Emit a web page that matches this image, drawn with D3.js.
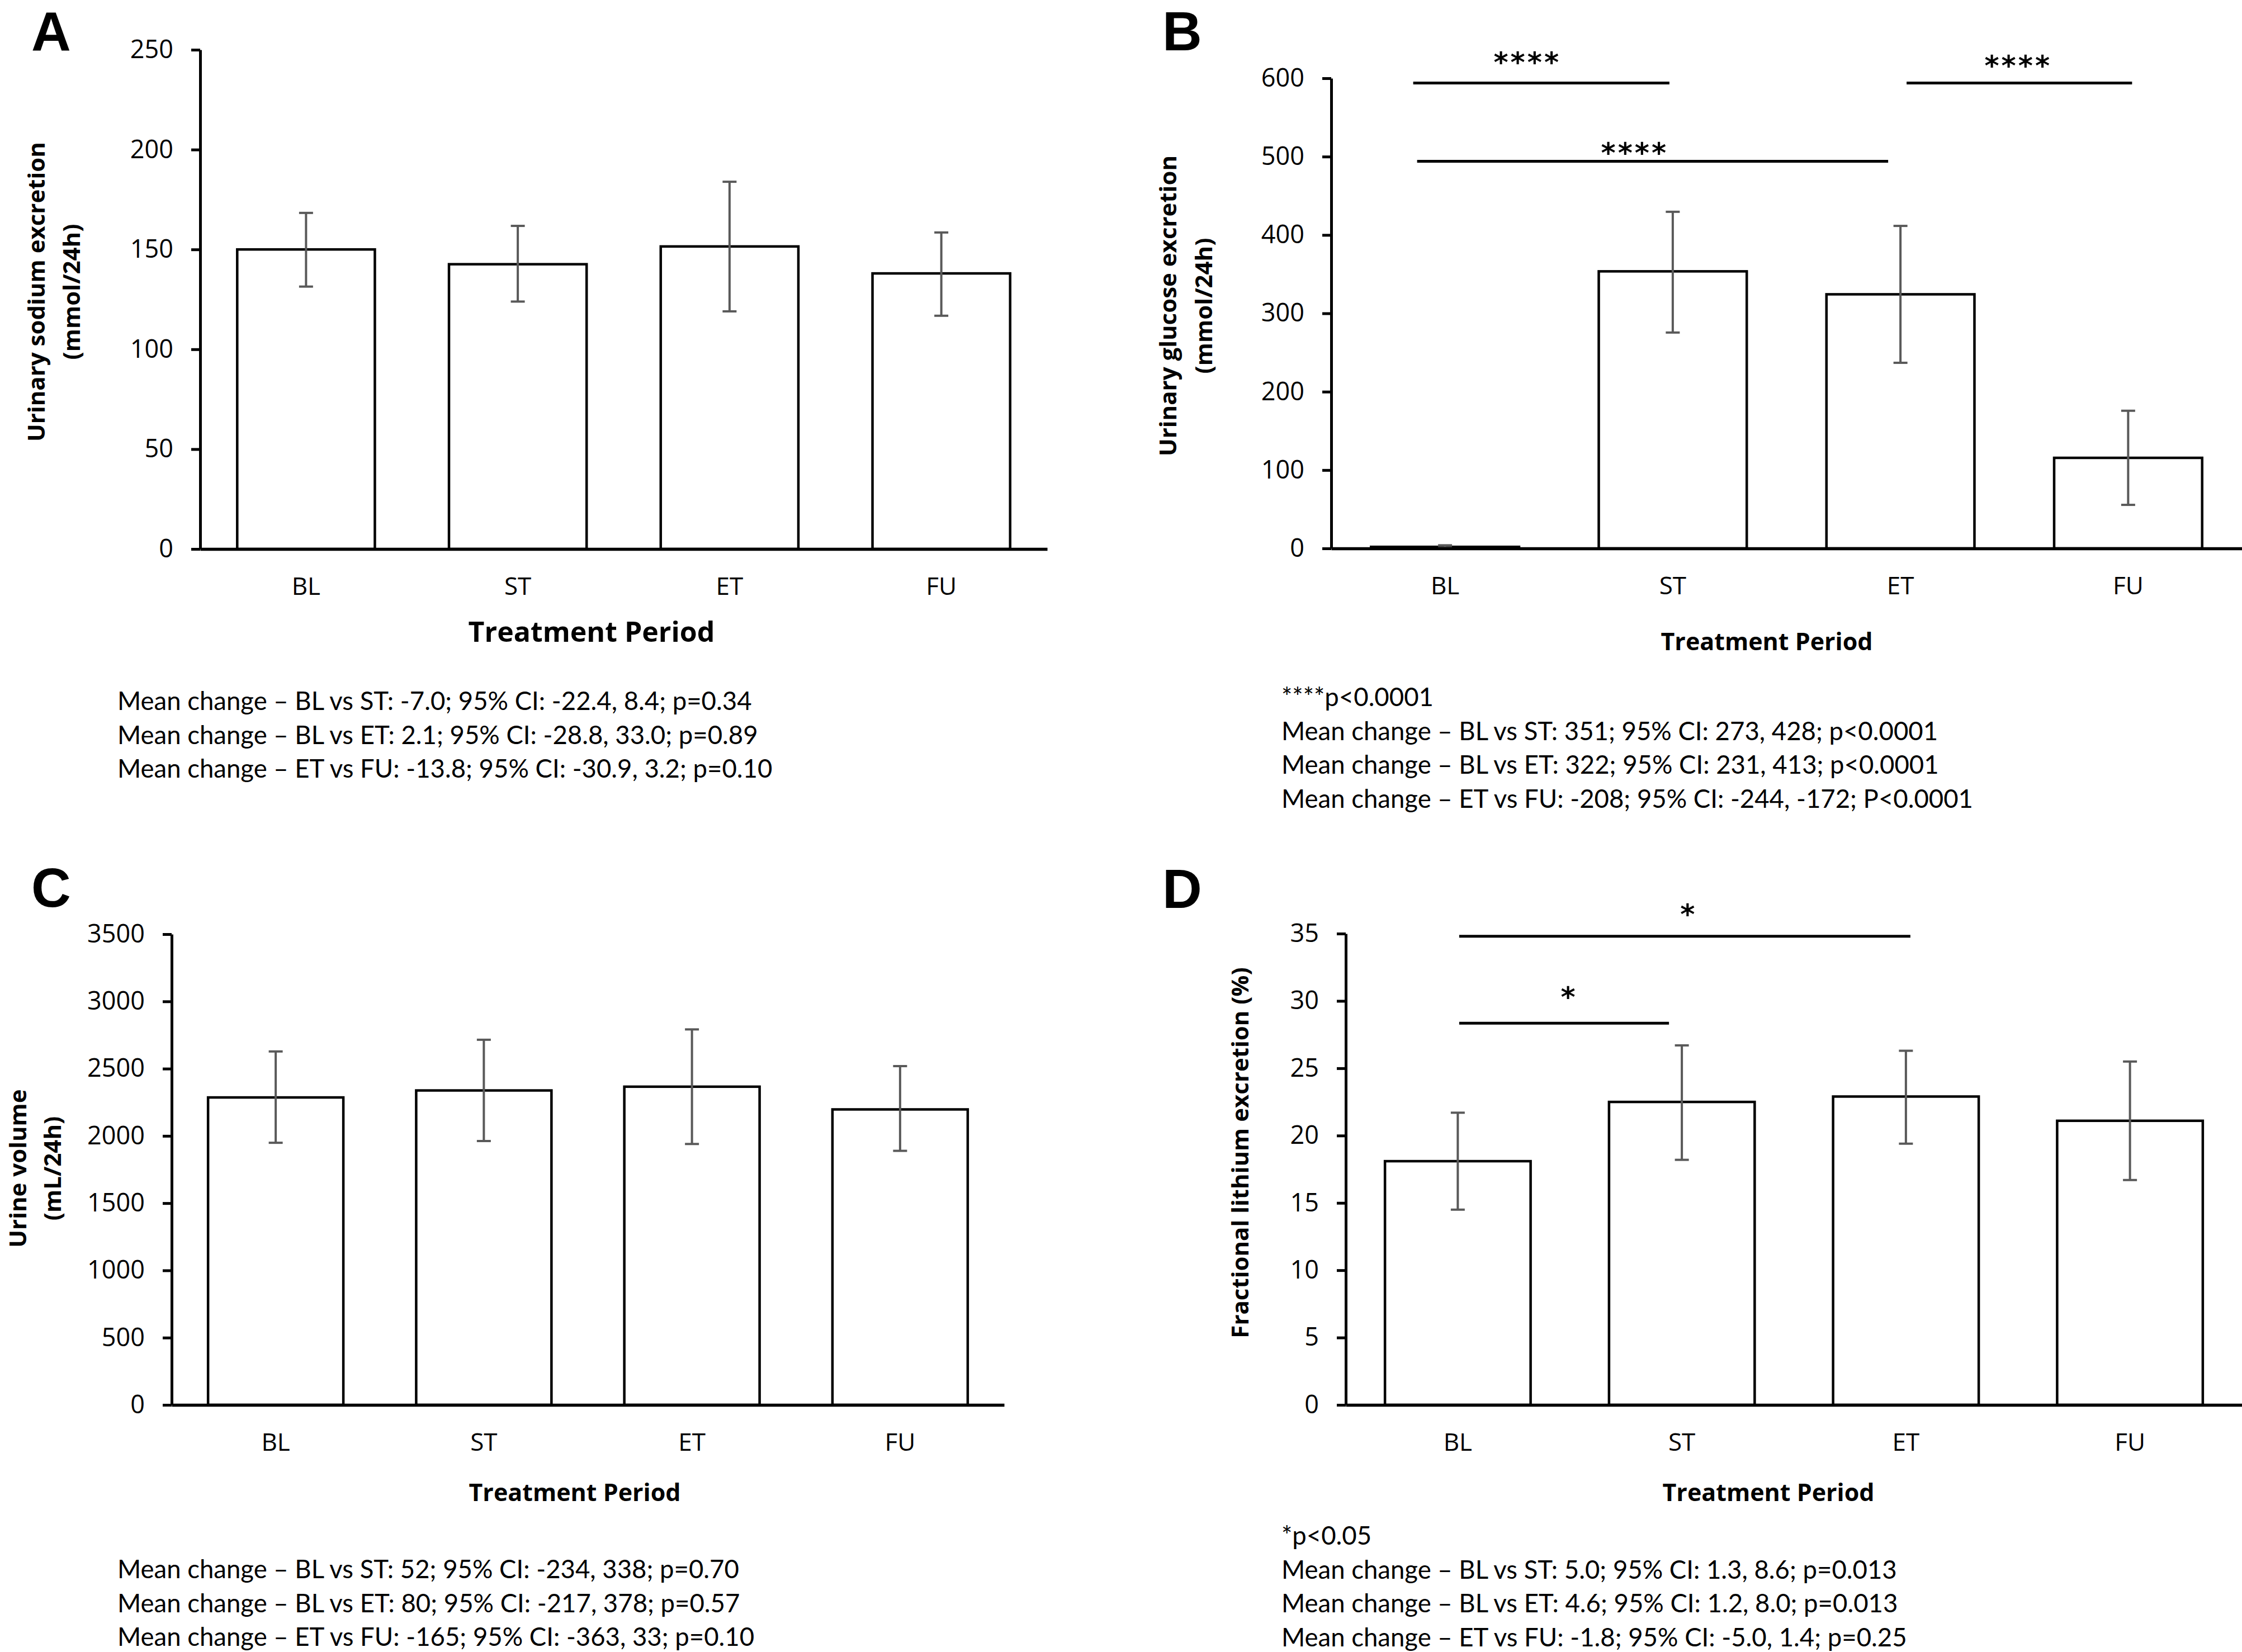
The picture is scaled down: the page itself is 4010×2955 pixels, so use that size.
<!DOCTYPE html>
<html>
<head>
<meta charset="utf-8">
<script src="https://cdn.jsdelivr.net/npm/d3@7"></script>
<style>
  body { margin: 0; background: #fff; }
  svg { display: block; }
  .tick line, .domain { stroke: #000; }
</style>
</head>
<body>
<div id="canvas"></div>
<script>
// categories shared by all four panels
const categories = ["BL", "ST", "ET", "FU"]

// A - urinary sodium (mmol/24h)
const sodiumMean = [150.0, 142.6, 151.5, 138.0]
const sodiumLow = [131.4, 123.9, 119.0, 116.8]
const sodiumHigh = [168.3, 161.8, 183.9, 158.5]
const sodiumTicks = [0, 50, 100, 150, 200, 250]

// B - urinary glucose (mmol/24h)
const glucoseMean = [2, 353.6, 324.3, 115.6]
const glucoseLow = [1, 275.5, 236.9, 55.6]
const glucoseHigh = [4, 429.6, 411.6, 175.7]
const glucoseTicks = [0, 100, 200, 300, 400, 500, 600]

// C - urine volume (mL/24h)
const volumeMean = [2286, 2338, 2366, 2197]
const volumeLow = [1949, 1962, 1940, 1889]
const volumeHigh = [2628, 2715, 2792, 2519]
const volumeTicks = [0, 500, 1000, 1500, 2000, 2500, 3000, 3500]

// D - fractional lithium excretion (%)
const lithiumMean = [18.1, 22.5, 22.9, 21.1]
const lithiumLow = [14.5, 18.2, 19.4, 16.7]
const lithiumHigh = [21.7, 26.7, 26.3, 25.5]
const lithiumTicks = [0, 5, 10, 15, 20, 25, 30, 35]

// significance brackets: from, to, level (in axis units), label
const glucoseSig = [
  ["BL", "ST", 594, "****"],
  ["BL", "ET", 494, "****"],
  ["ET", "FU", 594, "****"]
]
const lithiumSig = [
  ["BL", "ST", 28.35, "*"],
  ["BL", "ET", 34.8, "*"]
]

const sodiumNotes = [
  "Mean change \u2013 BL vs ST: -7.0; 95% CI: -22.4, 8.4; p=0.34",
  "Mean change \u2013 BL vs ET: 2.1; 95% CI: -28.8, 33.0; p=0.89",
  "Mean change \u2013 ET vs FU: -13.8; 95% CI: -30.9, 3.2; p=0.10"
]
const glucoseNotes = [
  "****p<0.0001",
  "Mean change \u2013 BL vs ST: 351; 95% CI: 273, 428; p<0.0001",
  "Mean change \u2013 BL vs ET: 322; 95% CI: 231, 413; p<0.0001",
  "Mean change \u2013 ET vs FU: -208; 95% CI: -244, -172; P<0.0001"
]
const volumeNotes = [
  "Mean change \u2013 BL vs ST: 52; 95% CI: -234, 338; p=0.70",
  "Mean change \u2013 BL vs ET: 80; 95% CI: -217, 378; p=0.57",
  "Mean change \u2013 ET vs FU: -165; 95% CI: -363, 33; p=0.10"
]
const lithiumNotes = [
  "*p<0.05",
  "Mean change \u2013 BL vs ST: 5.0; 95% CI: 1.3, 8.6; p=0.013",
  "Mean change \u2013 BL vs ET: 4.6; 95% CI: 1.2, 8.0; p=0.013",
  "Mean change \u2013 ET vs FU: -1.8; 95% CI: -5.0, 1.4; p=0.25"
]

// layout of each panel (pixels)
const panels = [
  { letter: "A", lx: 56, ly: 90, xr: [358, 1873], yr: [982, 89], ticks: sodiumTicks,
    mean: sodiumMean, lo: sodiumLow, hi: sodiumHigh, sig: [], sigPos: [],
    ytitle: ["Urinary sodium excretion", "(mmol/24h)"], ytx: [80, 143], yty: 522,
    xtx: 1058, xty: 1148, xts: 50, notes: sodiumNotes, nx: 210, ny: 1270 },
  { letter: "B", lx: 2079, ly: 90, xr: [2381, 4010], yr: [981, 140], ticks: glucoseTicks,
    mean: glucoseMean, lo: glucoseLow, hi: glucoseHigh, sig: glucoseSig,
    sigPos: [[-57, -6, 47, -25], [-50, -22, 26, -32], [11, 7, 41, -2]],
    ytitle: ["Urinary glucose excretion", "(mmol/24h)"], ytx: [2104, 2168], yty: 547,
    xtx: 3160, xty: 1163, xts: 43, notes: glucoseNotes, nx: 2292, ny: 1263 },
  { letter: "C", lx: 56, ly: 1622, xr: [307, 1796], yr: [2513, 1671], ticks: volumeTicks,
    mean: volumeMean, lo: volumeLow, hi: volumeHigh, sig: [], sigPos: [],
    ytitle: ["Urine volume", "(mL/24h)"], ytx: [47, 109], yty: 2090,
    xtx: 1028, xty: 2685, xts: 43, notes: volumeNotes, nx: 210, ny: 2823 },
  { letter: "D", lx: 2079, ly: 1624, xr: [2407, 4010], yr: [2513, 1670], ticks: lithiumTicks,
    mean: lithiumMean, lo: lithiumLow, hi: lithiumHigh, sig: lithiumSig,
    sigPos: [[2.5, -23, 57, 9], [2.5, 8, 50, 7]],
    ytitle: ["Fractional lithium excretion (%)"], ytx: [2233], yty: 2062,
    xtx: 3163, xty: 2685, xts: 43, notes: lithiumNotes, nx: 2292, ny: 2763 }
]

const width = 4010
const height = 2955
const axisFont = "'Open Sans', sans-serif"
const noteFont = "Lato, sans-serif"

const svg = d3.select("#canvas").append("svg")
  .attr("width", width)
  .attr("height", height)

svg.append("rect").attr("width", width).attr("height", height).attr("fill", "#fff")

function drawPanel(p) {
  const g = svg.append("g")

  const x = d3.scaleBand()
    .domain(categories)
    .range(p.xr)
    .paddingInner(0.35)
    .paddingOuter(0.175)

  const y = d3.scaleLinear()
    .domain([0, d3.max(p.ticks)])
    .range(p.yr)

  const rows = categories.map((c, i) => ({ cat: c, mean: p.mean[i], lo: p.lo[i], hi: p.hi[i] }))

  // bars
  g.selectAll("rect.bar").data(rows).enter()
    .append("rect")
    .attr("class", "bar")
    .attr("x", d => x(d.cat))
    .attr("y", d => y(d.mean))
    .attr("width", x.bandwidth())
    .attr("height", d => y(0) - y(d.mean))
    .attr("fill", "#fff")
    .attr("stroke", "#000")
    .attr("stroke-width", 4.5)

  // error bars
  const cx = d => x(d.cat) + x.bandwidth() / 2
  const err = g.selectAll("g.err").data(rows).enter().append("g").attr("class", "err")
    .attr("stroke", "#595959").attr("stroke-width", 4)
  err.append("line").attr("x1", cx).attr("x2", cx).attr("y1", d => y(d.lo)).attr("y2", d => y(d.hi))
  err.append("line").attr("x1", d => cx(d) - 12.5).attr("x2", d => cx(d) + 12.5)
    .attr("y1", d => y(d.hi)).attr("y2", d => y(d.hi))
  err.append("line").attr("x1", d => cx(d) - 12.5).attr("x2", d => cx(d) + 12.5)
    .attr("y1", d => y(d.lo)).attr("y2", d => y(d.lo))

  // y axis
  const ya = g.append("g")
    .attr("transform", `translate(${p.xr[0]},0)`)
    .call(d3.axisLeft(y).tickValues(p.ticks).tickFormat(d3.format("d"))
      .tickSize(16).tickSizeOuter(0).tickPadding(32))
  ya.selectAll("line, path").attr("stroke-width", 5)
  ya.selectAll("text").attr("font-family", axisFont).attr("font-size", 45).attr("fill", "#000")

  // x axis
  const xa = g.append("g")
    .attr("transform", `translate(0,${y(0)})`)
    .call(d3.axisBottom(x).tickSize(0).tickSizeOuter(0))
  xa.select(".domain").attr("stroke-width", 5.5)
  xa.selectAll("text").attr("font-family", axisFont).attr("font-size", 44).attr("fill", "#000")
    .attr("y", 82).attr("dy", 0)

  // axis titles
  p.ytitle.forEach((t, i) => {
    g.append("text")
      .attr("transform", `translate(${p.ytx[i]},${p.yty}) rotate(-90)`)
      .attr("text-anchor", "middle")
      .attr("font-family", axisFont).attr("font-weight", "bold").attr("font-size", 42)
      .text(t)
  })
  g.append("text")
    .attr("x", p.xtx).attr("y", p.xty)
    .attr("text-anchor", "middle")
    .attr("font-family", axisFont).attr("font-weight", "bold").attr("font-size", p.xts)
    .text("Treatment Period")

  // significance brackets
  p.sig.forEach((s, i) => {
    const pos = p.sigPos[i]
    const x1 = x(s[0]) + x.bandwidth() / 2 + pos[0]
    const x2 = x(s[1]) + x.bandwidth() / 2 + pos[1]
    const ly = y(s[2])
    g.append("line").attr("x1", x1).attr("x2", x2).attr("y1", ly).attr("y2", ly)
      .attr("stroke", "#000").attr("stroke-width", 5)
    g.append("text")
      .attr("x", (x1 + x2) / 2 + pos[3]).attr("y", ly - pos[2] + 28)
      .attr("text-anchor", "middle")
      .attr("font-family", "'DejaVu Sans', sans-serif").attr("font-weight", "bold")
      .attr("font-size", 50).attr("letter-spacing", 4)
      .text(s[3])
  })

  // panel letter
  svg.append("text")
    .attr("x", p.lx).attr("y", p.ly)
    .attr("font-family", "'Liberation Sans', Arial, sans-serif").attr("font-weight", "bold")
    .attr("font-size", 98)
    .text(p.letter)

  // notes under the chart
  g.selectAll("text.note").data(p.notes).enter()
    .append("text")
    .attr("class", "note")
    .attr("x", p.nx)
    .attr("y", (d, i) => p.ny + i * 60.5)
    .attr("font-family", noteFont).attr("font-size", 45.5)
    .text(d => d)
}

panels.forEach(drawPanel)
</script>
</body>
</html>
